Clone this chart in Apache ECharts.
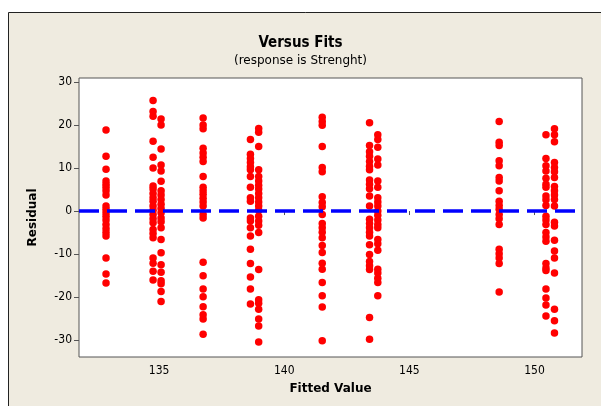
<!DOCTYPE html>
<html><head><meta charset="utf-8">
<script src="https://cdn.jsdelivr.net/npm/echarts@6/dist/echarts.min.js"></script>
<style>html,body{margin:0;padding:0;background:#fff}#c{width:601px;height:406px}</style>
</head><body><div id="c"></div>
<script>
var FONT = "'DejaVu Sans Condensed','DejaVu Sans',sans-serif";
var FONT_W = "'DejaVu Sans',sans-serif";
var title = "Versus Fits";
var subtitle = "(response is Strenght)";
var xName = "Fitted Value";
var yName = "Residual";
var xTicks = [135, 140, 145, 150];
var yTicks = [-30, -20, -10, 0, 10, 20, 30];
var fits = [132.88, 134.76, 135.08, 136.76, 138.65, 138.98, 141.52, 143.41, 143.74, 148.59, 150.46, 150.80];
var res1 = [18.85, 12.7, 9.7, 7.0, 6.2, 5.5, 4.7, 3.7, 1.2, 0.4, -0.4, -1.2, -2.1, -3.1, -4.1, -5.0, -5.8, -10.9, -14.6, -16.7];
var res2 = [25.7, 23.1, 22.0, 16.2, 12.5, 10.0, 5.8, 5.1, 4.1, 3.1, 2.3, 1.2, 0.2, -0.8, -1.8, -2.7, -4.3, -5.2, -6.2, -10.9, -12.1, -14.0, -16.0];
var res3 = [21.4, 20.0, 14.4, 10.7, 9.3, 6.9, 4.7, 3.7, 2.7, 1.6, 0.6, -0.4, -1.6, -2.5, -3.9, -6.6, -9.7, -12.5, -14.2, -16.2, -16.9, -18.7, -21.0];
var res4 = [21.6, 20.0, 19.1, 14.6, 13.5, 12.5, 11.5, 8.0, 5.5, 4.7, 3.9, 3.0, 2.1, 1.2, -0.8, -1.6, -11.9, -15.0, -18.1, -19.9, -22.2, -24.1, -25.1, -28.6];
var res5 = [16.6, 13.2, 12.2, 11.3, 10.3, 9.6, 8.0, 5.5, 3.1, 2.3, -1.6, -2.3, -3.9, -5.8, -8.9, -12.2, -15.3, -18.1, -21.6];
var res6 = [19.2, 18.3, 15.0, 9.6, 8.0, 7.0, 6.0, 5.1, 4.1, 3.1, 2.1, 1.2, 0.2, -1.2, -2.3, -3.3, -5.0, -13.6, -20.6, -21.4, -22.8, -25.1, -26.7, -30.4];
var res7 = [21.8, 20.8, 19.9, 15.0, 10.1, 9.1, 3.3, 2.0, 1.0, -0.8, -2.9, -3.9, -4.9, -6.2, -8.0, -9.6, -12.1, -13.5, -16.6, -19.7, -22.3, -30.1];
var res8 = [20.5, 15.2, 13.8, 12.7, 11.5, 10.4, 9.6, 7.2, 6.2, 5.2, 3.5, 1.2, -1.9, -2.9, -3.9, -4.9, -5.8, -7.8, -10.1, -11.7, -12.7, -13.6, -24.7, -29.8];
var res9 = [17.7, 16.6, 14.8, 12.1, 10.7, 7.0, 5.5, 3.1, 2.1, 1.2, 0.0, -1.0, -2.1, -3.1, -3.9, -6.6, -7.6, -9.1, -13.5, -14.4, -15.6, -16.6, -19.7];
var res10 = [20.8, 16.0, 15.2, 11.7, 10.5, 7.8, 7.0, 4.7, 2.3, 1.3, 0.4, -0.8, -1.8, -3.1, -8.9, -9.9, -10.9, -12.2, -18.8];
var res11 = [17.7, 12.2, 10.5, 9.3, 7.6, 6.2, 5.5, 3.5, 2.6, 1.3, -1.2, -2.1, -3.1, -5.0, -6.0, -7.0, -12.2, -13.2, -13.8, -18.1, -20.2, -21.8, -24.4];
var res12 = [19.1, 17.7, 16.1, 11.3, 10.1, 9.1, 7.8, 5.7, 4.7, 3.7, 2.7, 1.2, -2.6, -3.5, -6.8, -9.3, -10.9, -14.4, -22.8, -25.5, -28.3];
var residuals = [res1, res2, res3, res4, res5, res6, res7, res8, res9, res10, res11, res12];

var points = [];
residuals.forEach(function (col, i) {
  col.forEach(function (r) { points.push([fits[i], r]); });
});

var chart = echarts.init(document.getElementById('c'), null, {renderer: 'canvas'});
chart.setOption({
  backgroundColor: '#ffffff',
  animation: false,
  graphic: [{
    type: 'rect', z: -10, silent: true,
    shape: {x: 8.5, y: 12.5, width: 700, height: 500},
    style: {fill: '#efebe0', stroke: '#222', lineWidth: 1}
  }],
  title: {
    text: title, subtext: subtitle, left: 'center', top: 31, itemGap: 4,
    textStyle: {fontFamily: FONT, fontSize: 15, fontWeight: 'bold', color: '#000'},
    subtextStyle: {fontFamily: FONT_W, fontSize: 12, color: '#000'}
  },
  grid: {left: 79, right: 19, top: 78, bottom: 49, show: true, backgroundColor: '#ffffff', borderColor: '#555', borderWidth: 1},
  xAxis: {
    type: 'value', min: 131.8, max: 151.9,
    name: xName, nameLocation: 'middle', nameGap: 26,
    nameTextStyle: {fontFamily: FONT_W, fontSize: 12, fontWeight: 'bold', color: '#000'},
    axisLine: {show: false},
    splitLine: {show: false},
    axisTick: {show: true, length: 4, lineStyle: {color: '#555'}, customValues: xTicks},
    axisLabel: {fontFamily: FONT, fontSize: 12, color: '#000', margin: 8, customValues: xTicks}
  },
  yAxis: {
    type: 'value', min: -33.9, max: 30.9,
    name: yName, nameLocation: 'middle', nameGap: 40, nameRotate: 90,
    nameTextStyle: {fontFamily: FONT_W, fontSize: 12, fontWeight: 'bold', color: '#000'},
    axisLine: {show: false},
    splitLine: {show: false},
    axisTick: {show: true, length: 5, lineStyle: {color: '#555'}, customValues: yTicks},
    axisLabel: {fontFamily: FONT, fontSize: 12, color: '#000', margin: 7, customValues: yTicks}
  },
  series: [{
    type: 'scatter', data: points, symbolSize: 7.5,
    itemStyle: {color: '#ff0000', opacity: 1},
    markLine: {
      silent: true, symbol: 'none', label: {show: false},
      lineStyle: {color: '#0000ff', width: 3.5, type: [20, 8]},
      data: [{yAxis: 0}]
    },
    z: 3
  }]
});
</script></body></html>
